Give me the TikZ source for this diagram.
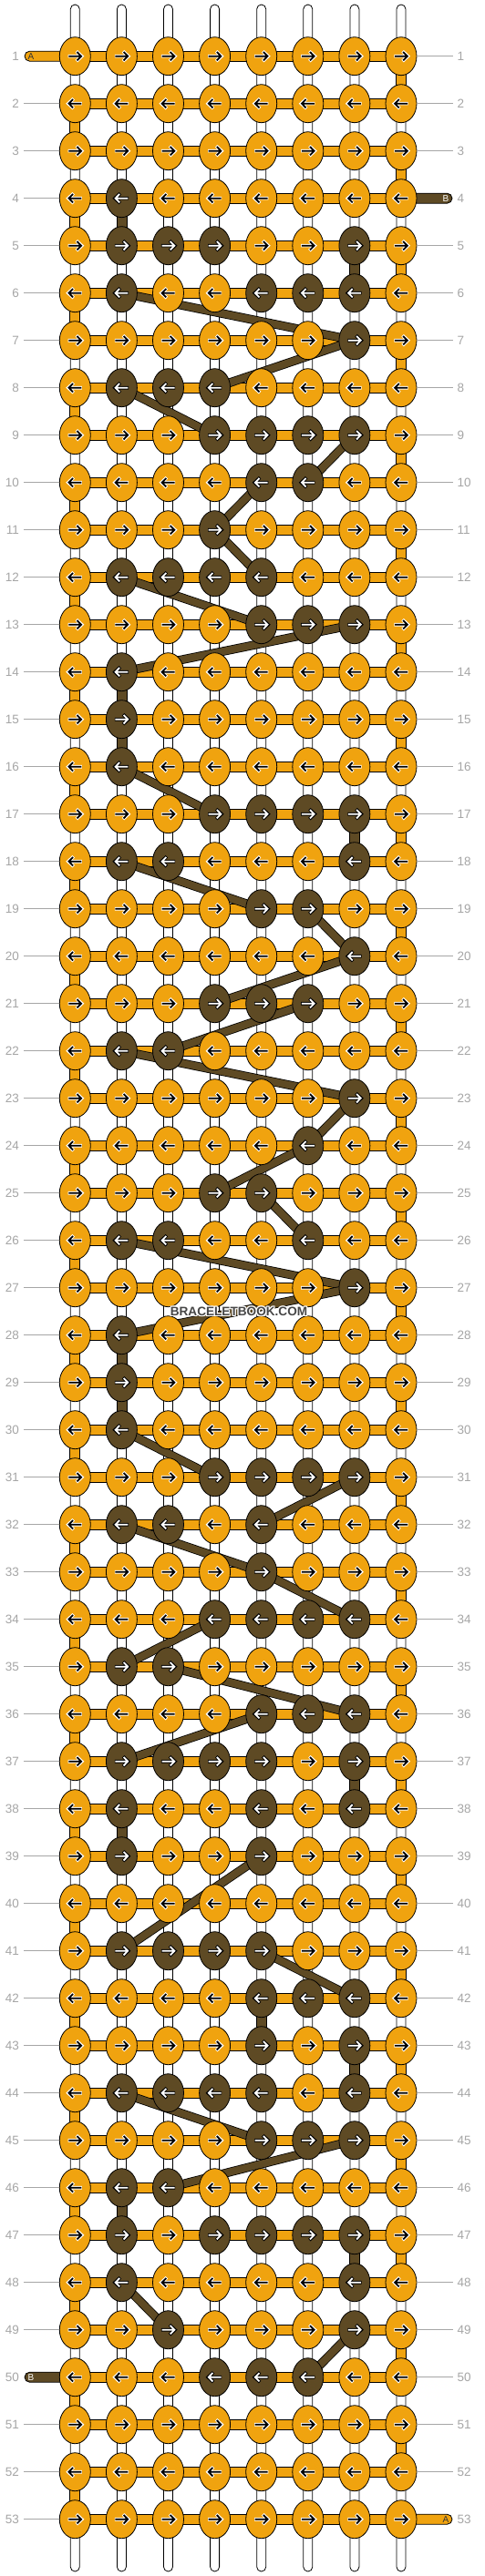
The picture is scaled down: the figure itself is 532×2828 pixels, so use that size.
\documentclass[tikz,border=0pt]{standalone}
\usepackage{fontspec}
\setmainfont{Liberation Sans}
\usetikzlibrary{shapes.geometric}
\definecolor{korange}{HTML}{F0A30F}
\definecolor{kbrown}{HTML}{5E4A24}
\definecolor{labgray}{HTML}{A6A6A6}
\pgfdeclarelayer{bg}
\pgfsetlayers{bg,main}
\tikzset{
 knot/.style={ellipse, draw=black, line width=0.8pt, minimum width=34pt, minimum height=42pt, inner sep=0pt},
 band/.style={fill=korange, draw=black, line width=0.8pt},
 bband/.style={fill=kbrown, draw=black, line width=0.8pt},
 strand/.style={fill=white, draw=black, line width=0.8pt, rounded corners=5pt},
 diagout/.style={draw=black, line width=9.6pt},
 diagin/.style={draw=kbrown, line width=8pt},
 labline/.style={draw=labgray, line width=0.8pt},
 num/.style={text=labgray, font=\fontsize{13.5}{14}\selectfont, inner sep=0pt},
 tabtext/.style={font=\fontsize{10}{10}\selectfont, inner sep=0pt},
 wmark/.style={font=\bfseries\fontsize{13.6}{14}\selectfont, inner sep=0pt},
}
\foreach \r/\c in {4/2, 5/2,5/3,5/4,5/7, 6/2,6/5,6/6,6/7, 7/7, 8/2,8/3,8/4, 9/4,9/5,9/6,9/7, 10/5,10/6, 11/4, 12/2,12/3,12/4,12/5, 13/5,13/6,13/7, 14/2, 15/2, 16/2, 17/4,17/5,17/6,17/7, 18/2,18/3,18/7, 19/5,19/6, 20/7, 21/4,21/5,21/6, 22/2,22/3, 23/7, 24/6, 25/4,25/5, 26/2,26/3,26/6, 27/7, 28/2, 29/2, 30/2, 31/4,31/5,31/6,31/7, 32/2,32/3,32/5, 33/5, 34/4,34/5,34/6,34/7, 35/2,35/3, 36/5,36/6,36/7, 37/2,37/3,37/4,37/5,37/7, 38/2,38/5,38/7, 39/2,39/5, 41/2,41/3,41/4,41/5, 42/5,42/6,42/7, 43/5,43/7, 44/2,44/3,44/4,44/5,44/7, 45/5,45/6,45/7, 46/2,46/3, 47/2,47/4,47/5,47/6,47/7, 48/2,48/7, 49/3,49/7, 50/4,50/5,50/6}{\expandafter\gdef\csname dk-\r-\c\endcsname{}}
\begin{document}
\begin{tikzpicture}[x=1pt,y=-1pt]
\useasboundingbox (0,0) rectangle (532,2828);
% knots with arrows
\foreach \r in {1,...,53}{
 \foreach \c in {1,...,8}{
  \ifcsname dk-\r-\c\endcsname \def\kc{kbrown}\def\ac{white}\def\ao{black}\else \def\kc{korange}\def\ac{black}\def\ao{white}\fi
  \ifodd\r\relax\def\dir{1}\else\def\dir{-1}\fi
  \node[knot, fill=\kc] (k-\r-\c) at ({82.3+51.1*(\c-1)},{61.7+52*(\r-1)}) {};
  \begin{scope}[shift={(k-\r-\c.center)}, xscale=\dir]
   \draw[\ao, line width=3.6pt, line join=miter] (-7.6,0)--(6,0) (1.6,-5.4)--(7.4,0)--(1.6,5.4);
   \draw[\ac, line width=1.8pt, line join=miter] (-7,0)--(6,0) (2.2,-4.7)--(6.8,0)--(2.2,4.7);
  \end{scope}
 }
}
\begin{pgfonlayer}{bg}
\fill[white] (0,0) rectangle (532,2828);
% vertical base strings
\foreach \c in {1,...,8}{
 \draw[strand] ({82.3+51.1*(\c-1)-5},5) rectangle ({82.3+51.1*(\c-1)+5},2823);
}
% tabs
\draw[band, rounded corners=5.5pt] (27,56.2) rectangle (90,67.2);
\draw[band, rounded corners=5.5pt] (430,2760.2) rectangle (496,2771.2);
\draw[bband, rounded corners=5.5pt] (430,212.2) rectangle (496,223.2);
\draw[bband, rounded corners=5.5pt] (27,2604.2) rectangle (90,2615.2);
% horizontal working-string bands
\foreach \r in {1,...,53}{
 \draw[band] ([yshift=5.5pt]k-\r-1.center) rectangle ([yshift=-5.5pt]k-\r-8.center);
}
% edge turns
\foreach \r in {1,...,52}{
 \pgfmathtruncatemacro\rn{\r+1}
 \ifodd\r\relax\def\ec{8}\else\def\ec{1}\fi
 \draw[band] ([xshift=-5.5pt]k-\r-\ec.center) rectangle ([xshift=5.5pt]k-\rn-\ec.center);
}
% brown vertical pieces
\foreach \r/\c in {4/2,14/2,15/2,28/2,29/2,38/2,46/2,5/7,17/7,37/7,43/7,47/7,42/5}{
 \pgfmathtruncatemacro\rn{\r+1}
 \draw[bband] ([xshift=-5.5pt]k-\r-\c.center) rectangle ([xshift=5.5pt]k-\rn-\c.center);
}
% brown diagonals
\foreach \ra/\ca/\rb/\cb in {6/2/7/7, 7/7/8/4, 8/2/9/4, 9/7/10/6, 10/5/11/4, 11/4/12/5, 12/2/13/5, 13/7/14/2, 16/2/17/4, 18/2/19/5, 19/6/20/7, 20/7/21/4, 21/6/22/3, 22/2/23/7, 23/7/24/6, 24/6/25/4, 25/5/26/6, 26/2/27/7, 27/7/28/2, 30/2/31/4, 31/7/32/5, 32/2/33/5, 33/5/34/7, 34/4/35/2, 35/3/36/7, 36/5/37/2, 39/5/41/2, 41/5/42/7, 44/2/45/5, 45/7/46/3, 48/2/49/3, 49/7/50/6}{
 \draw[diagout] (k-\ra-\ca.center) -- (k-\rb-\cb.center);
 \draw[diagin] (k-\ra-\ca.center) -- (k-\rb-\cb.center);
}
\end{pgfonlayer}
% row labels
\foreach \r in {1,...,53}{
 \node[num, anchor=east] (ln-\r) at (21,{61.7+52*(\r-1)}) {\r};
 \node[num, anchor=west] (rn-\r) at (501.5,{61.7+52*(\r-1)}) {\r};
}
\foreach \r in {2,...,49,51,52,53}{
 \draw[labline] (26,{61.7+52*(\r-1)}) -- (k-\r-1.west);
}
\foreach \r in {1,2,3,5,6,...,52}{
 \draw[labline] (k-\r-8.east) -- (497,{61.7+52*(\r-1)});
}
% tab letters
\node[tabtext, text=black!80] (tA1) at (34,61.7) {A};
\node[tabtext, text=black!80] (tA2) at (489,2765.7) {A};
\node[tabtext, text=white] (tB1) at (489,217.7) {B};
\node[tabtext, text=white] (tB2) at (34,2609.7) {B};
% watermark
\foreach \dx/\dy in {-1/0,1/0,0/-1,0/1,-1/-1,1/1,-1/1,1/-1}{
 \node[wmark, text=white] at ({262+\dx},{1440+\dy}) {BRACELETBOOK.COM};
}
\node[wmark, text=black!72] (wm) at (262,1440) {BRACELETBOOK.COM};
\end{tikzpicture}
\end{document}
